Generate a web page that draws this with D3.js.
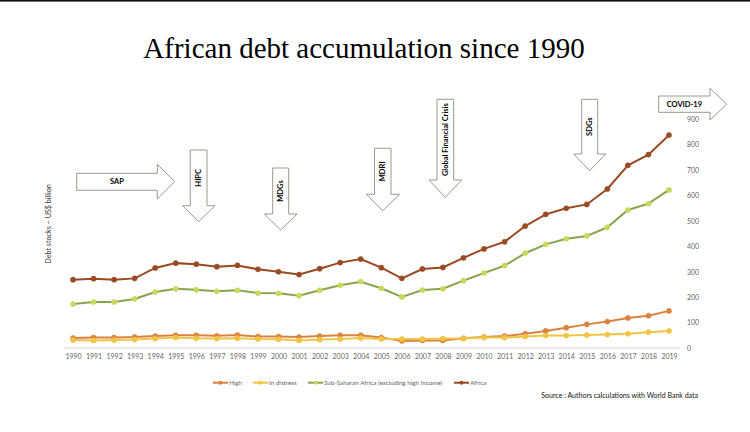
<!DOCTYPE html>
<html><head><meta charset="utf-8">
<script src="https://cdn.jsdelivr.net/npm/d3@7"></script>
<style>body{margin:0;background:#fff;}svg{display:block;}</style>
</head><body>
<svg id="c" width="750" height="432"></svg>
<script>
const years = d3.range(1990, 2020).map(String);
const high = [39,41,41,43,47,50,50,48,51,45,45,43,47,50,50,41,28,30,30,38,43,47,56,67,80,93,104,118,127,146];
const distress = [31,30,31,33,37,41,38,37,38,35,34,30,33,35,39,35,35,35,37,37,41,41,45,49,49,51,53,56,62,67];
const ssa = [173,181,181,193,220,233,229,223,227,216,215,206,227,247,261,235,201,228,233,265,295,324,373,408,430,441,475,543,568,622];
const africa = [269,273,269,274,315,334,330,320,325,310,300,289,312,336,350,316,274,311,317,355,390,418,480,526,550,565,626,719,761,838];
const yTicks = [0,100,200,300,400,500,600,700,800,900];
const seriesNames = ["High","In distress","Sub-Saharan Africa (excluding high income)","Africa"];
const seriesColors = ["#DA8340","#F1C445","#86A54C","#9A4A22"];
const markerColors = ["#DA8340","#F1C445","#C9D85C","#9A4A22"];
const seriesData = [high, distress, ssa, africa];
const events = [
  {label:"SAP", dir:"right"},
  {label:"HIPC", dir:"down"},
  {label:"MDGs", dir:"down"},
  {label:"MDRI", dir:"down"},
  {label:"Global Financial Crisis", dir:"down"},
  {label:"SDGs", dir:"down"},
  {label:"COVID-19", dir:"right"}
];

const svg = d3.select("#c");
svg.append("rect").attr("x",0).attr("y",0).attr("width",750).attr("height",1.6).attr("fill","#111");

svg.append("text").attr("x",364).attr("y",58).attr("text-anchor","middle")
  .attr("font-family","Liberation Serif, Times New Roman, serif").attr("font-size",29)
  .attr("fill","#000").text("African debt accumulation since 1990");

const x = d3.scalePoint().domain(years).range([73, 669]);
const y = d3.scaleLinear().domain([0, 900]).range([348, 119.3]);

svg.append("line").attr("x1",64).attr("x2",680).attr("y1",y(0)).attr("y2",y(0))
  .attr("stroke","#d9d9d9").attr("stroke-width",1);

const yAxis = d3.axisRight(y).tickValues(yTicks).tickSize(0).tickPadding(0);
const ga = svg.append("g").attr("transform","translate(687,0)").call(yAxis);
ga.select(".domain").remove();
ga.selectAll("text").attr("font-family","Lato, Open Sans, sans-serif").attr("font-size",7).attr("fill","#666").attr("dy","0.32em");

const xAxis = d3.axisBottom(x).tickSize(0).tickPadding(0);
const gx = svg.append("g").attr("transform","translate(0,354.5)").call(xAxis);
gx.select(".domain").remove();
gx.selectAll("text").attr("font-family","Lato, Open Sans, sans-serif").attr("font-size",7).attr("fill","#666").attr("dy","0.71em");

svg.append("text").attr("transform","translate(51,224) rotate(-90)").attr("text-anchor","middle")
  .attr("font-family","Lato, Open Sans, sans-serif").attr("font-size",7.2).attr("fill","#333")
  .text("Debt stocks \u2013 US$ billion");

const line = d3.line().x((d,i)=>x(years[i])).y(d=>y(d));
seriesData.forEach((s,k)=>{
  svg.append("path").datum(s).attr("d",line).attr("fill","none")
    .attr("stroke",seriesColors[k]).attr("stroke-width",2);
  svg.append("g").selectAll("circle").data(s).join("circle")
    .attr("cx",(d,i)=>x(years[i])).attr("cy",d=>y(d)).attr("r",2.6)
    .attr("fill",markerColors[k]).attr("stroke",markerColors[k]).attr("stroke-width",0.5);
});

const arrowGeom = [
  {x0:76.7, x1:157.3, y0:173.3, y1:190.3, hx:174.7, hy0:164.3, hy1:199},
  {x0:190.3, x1:207, y0:150, y1:205.7, hx0:182.7, hx1:215, ty:221.7},
  {x0:272.7, x1:288.7, y0:168, y1:214, hx0:264.3, hx1:297, ty:230},
  {x0:374.5, x1:391, y0:148.3, y1:194.3, hx0:366.5, hx1:399.5, ty:210.7},
  {x0:437, x1:453.7, y0:99.3, y1:180, hx0:429, hx1:461.7, ty:197.3},
  {x0:581.7, x1:597.7, y0:99.3, y1:154, hx0:573.7, hx1:605.7, ty:170.7},
  {x0:658.7, x1:710, y0:96, y1:112.3, hx:726.7, hy0:88.3, hy1:120}
];
events.forEach((e,i)=>{
  const g = arrowGeom[i];
  let pts, tx, ty, rot;
  if (e.dir==="right") {
    pts = [[g.x0,g.y0],[g.x1,g.y0],[g.x1,g.hy0],[g.hx,(g.hy0+g.hy1)/2],[g.x1,g.hy1],[g.x1,g.y1],[g.x0,g.y1]];
    tx = (g.x0+g.x1)/2; ty=(g.y0+g.y1)/2; rot=0;
  } else {
    const cx=(g.x0+g.x1)/2;
    pts = [[g.x0,g.y0],[g.x1,g.y0],[g.x1,g.y1],[g.hx1,g.y1],[cx,g.ty],[g.hx0,g.y1],[g.x0,g.y1]];
    tx = cx; ty=(g.y0+g.y1)/2; rot=-90;
  }
  svg.append("polygon").attr("points",pts.map(p=>p.join(",")).join(" "))
    .attr("fill","#fff").attr("stroke","#8c907f").attr("stroke-width",0.9);
  svg.append("text").attr("transform",`translate(${tx},${ty}) rotate(${rot})`)
    .attr("text-anchor","middle").attr("dy","0.35em")
    .attr("font-family","Lato, Open Sans, sans-serif").attr("font-weight","bold")
    .attr("font-size",7.5).attr("fill","#000").text(e.label);
});

const legX = [213, 253, 308, 454];
seriesNames.forEach((n,k)=>{
  const lx = legX[k], ly = 382.7;
  svg.append("line").attr("x1",lx).attr("x2",lx+15).attr("y1",ly).attr("y2",ly)
    .attr("stroke",seriesColors[k]).attr("stroke-width",2);
  svg.append("circle").attr("cx",lx+7.5).attr("cy",ly).attr("r",2).attr("fill",markerColors[k]);
  svg.append("text").attr("x",lx+16).attr("y",ly).attr("dy","0.35em")
    .attr("font-family","Lato, Open Sans, sans-serif").attr("font-size",6.3).attr("fill","#666").text(n);
});

svg.append("text").attr("x",698).attr("y",396).attr("dy","0.35em").attr("text-anchor","end")
  .attr("font-family","Lato, Open Sans, sans-serif").attr("font-size",7).attr("fill","#111")
  .text("Source : Authors calculations with World Bank data");
</script>
</body></html>
